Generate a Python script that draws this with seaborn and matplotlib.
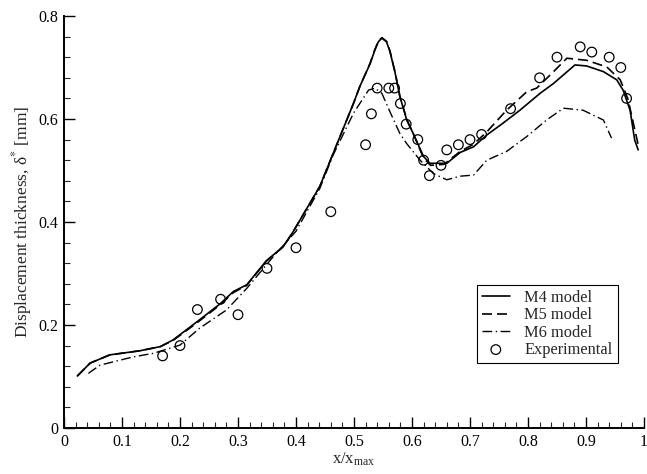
import numpy as np
import pandas as pd
import matplotlib
matplotlib.use("Agg")
import matplotlib.pyplot as plt
import seaborn as sns
from matplotlib.ticker import MultipleLocator, FixedLocator, FixedFormatter

# ---- data ----
m4_x = [0.023, 0.045, 0.079, 0.131, 0.166, 0.188, 0.229, 0.269, 0.292, 0.315, 0.349, 0.378,
        0.395, 0.441, 0.464, 0.499, 0.510, 0.528, 0.536, 0.542, 0.548, 0.556, 0.562, 0.571,
        0.579, 0.591, 0.602, 0.620, 0.631, 0.660, 0.683, 0.706, 0.729, 0.757, 0.786, 0.821,
        0.844, 0.881, 0.901, 0.930, 0.953, 0.964, 0.976, 0.984, 0.990]
m4_y = [0.101, 0.126, 0.142, 0.150, 0.158, 0.171, 0.206, 0.241, 0.265, 0.278, 0.325, 0.352,
        0.381, 0.469, 0.533, 0.630, 0.663, 0.708, 0.734, 0.750, 0.757, 0.750, 0.731, 0.689,
        0.644, 0.598, 0.572, 0.527, 0.514, 0.514, 0.535, 0.546, 0.569, 0.592, 0.617, 0.650,
        0.669, 0.705, 0.703, 0.692, 0.676, 0.656, 0.617, 0.559, 0.540]

m5_x = [0.023, 0.045, 0.079, 0.131, 0.166, 0.188, 0.229, 0.269, 0.292, 0.315, 0.349, 0.378,
        0.395, 0.441, 0.464, 0.499, 0.510, 0.528, 0.536, 0.542, 0.548, 0.556, 0.562, 0.571,
        0.579, 0.591, 0.602, 0.620, 0.632, 0.655, 0.683, 0.706, 0.729, 0.763, 0.798, 0.815,
        0.845, 0.867, 0.901, 0.936, 0.959, 0.972, 0.982, 0.990]
m5_y = [0.101, 0.126, 0.142, 0.150, 0.158, 0.170, 0.204, 0.239, 0.263, 0.277, 0.324, 0.352,
        0.381, 0.469, 0.533, 0.630, 0.663, 0.709, 0.735, 0.751, 0.758, 0.751, 0.732, 0.690,
        0.645, 0.599, 0.572, 0.524, 0.510, 0.512, 0.537, 0.551, 0.575, 0.617, 0.653, 0.660,
        0.693, 0.718, 0.714, 0.701, 0.676, 0.640, 0.590, 0.550]

m6_x = [0.042, 0.062, 0.119, 0.154, 0.200, 0.234, 0.280, 0.315, 0.361, 0.400, 0.441, 0.464,
        0.499, 0.525, 0.536, 0.548, 0.562, 0.579, 0.591, 0.614, 0.637, 0.660, 0.683, 0.706,
        0.729, 0.763, 0.798, 0.832, 0.861, 0.895, 0.930, 0.944]
m6_y = [0.106, 0.122, 0.138, 0.145, 0.161, 0.194, 0.229, 0.271, 0.333, 0.382, 0.465, 0.530,
        0.611, 0.656, 0.660, 0.650, 0.614, 0.572, 0.552, 0.520, 0.494, 0.482, 0.489, 0.491,
        0.520, 0.537, 0.566, 0.598, 0.621, 0.617, 0.598, 0.563]

exp_x = [0.17, 0.20, 0.23, 0.27, 0.30, 0.35, 0.40, 0.46, 0.52, 0.53, 0.54, 0.56, 0.57, 0.58,
         0.59, 0.61, 0.62, 0.63, 0.65, 0.66, 0.68, 0.70, 0.72, 0.77, 0.82, 0.85, 0.89, 0.91,
         0.94, 0.96, 0.97]
exp_y = [0.14, 0.16, 0.23, 0.25, 0.22, 0.31, 0.35, 0.42, 0.55, 0.61, 0.66, 0.66, 0.66, 0.63,
         0.59, 0.56, 0.52, 0.49, 0.51, 0.54, 0.55, 0.56, 0.57, 0.62, 0.68, 0.72, 0.74, 0.73,
         0.72, 0.70, 0.64]

series_labels = ["M4 model", "M5 model", "M6 model", "Experimental"]
x_ticks = [0, 0.1, 0.2, 0.3, 0.4, 0.5, 0.6, 0.7, 0.8, 0.9, 1.0]
x_tick_labels = ["0", "0.1", "0.2", "0.3", "0.4", "0.5", "0.6", "0.7", "0.8", "0.9", "1"]
y_ticks = [0, 0.2, 0.4, 0.6, 0.8]
y_tick_labels = ["0", "0.2", "0.4", "0.6", "0.8"]

sns.set_style("ticks")
plt.rcParams["font.family"] = ["Liberation Serif", "DejaVu Serif"]
plt.rcParams["mathtext.fontset"] = "stix"

fig = plt.figure(figsize=(6.47, 4.74), dpi=100)
ax = fig.add_axes([64 / 647, 46 / 474, 580 / 647, 412 / 474])

df4 = pd.DataFrame({"x": m4_x, "y": m4_y})
df5 = pd.DataFrame({"x": m5_x, "y": m5_y})
df6 = pd.DataFrame({"x": m6_x, "y": m6_y})
dfe = pd.DataFrame({"x": exp_x, "y": exp_y})

sns.lineplot(data=df4, x="x", y="y", ax=ax, color="black", lw=1.2, sort=False,
             estimator=None, label=series_labels[0])
sns.lineplot(data=df5, x="x", y="y", ax=ax, color="black", lw=1.2, sort=False,
             estimator=None, label=series_labels[1], linestyle=(0, (6, 3)))
sns.lineplot(data=df6, x="x", y="y", ax=ax, color="black", lw=1.0, sort=False,
             estimator=None, label=series_labels[2], linestyle=(0, (7, 2.5, 1, 2.5)))
sns.scatterplot(data=dfe, x="x", y="y", ax=ax, marker="o", s=48, facecolor="none",
                edgecolor="black", linewidth=0.9, label=series_labels[3], zorder=5)

ax.set_xlim(0, 1)
ax.set_ylim(0, 0.8)
ax.xaxis.set_major_locator(FixedLocator(x_ticks))
ax.xaxis.set_major_formatter(FixedFormatter(x_tick_labels))
ax.yaxis.set_major_locator(FixedLocator(y_ticks))
ax.yaxis.set_major_formatter(FixedFormatter(y_tick_labels))
ax.xaxis.set_minor_locator(MultipleLocator(0.02))
ax.yaxis.set_minor_locator(MultipleLocator(0.04))
ax.tick_params(which="major", direction="in", length=8, width=1.0, labelsize=11.5,
               colors="black", pad=4)
ax.tick_params(which="minor", direction="in", length=4, width=0.8)
for s in ["top", "right"]:
    ax.spines[s].set_visible(False)
for s in ["left", "bottom"]:
    ax.spines[s].set_linewidth(1.4)
    ax.spines[s].set_color("black")

ax.set_xlabel(r"x/x$_{\mathregular{max}}$", fontsize=12, labelpad=1)
ax.set_ylabel(r"Displacement thickness, δ$^{*}$ [mm]", fontsize=12.5, labelpad=3)

leg = ax.legend(loc="upper left", bbox_to_anchor=(0.712, 0.347), fontsize=11.8,
                frameon=True, fancybox=False, edgecolor="black", framealpha=1,
                handlelength=1.7, handletextpad=0.9, borderpad=0.3, labelspacing=0.08,
                borderaxespad=0)
leg.get_frame().set_linewidth(0.8)

fig.savefig("out.png", dpi=100)
